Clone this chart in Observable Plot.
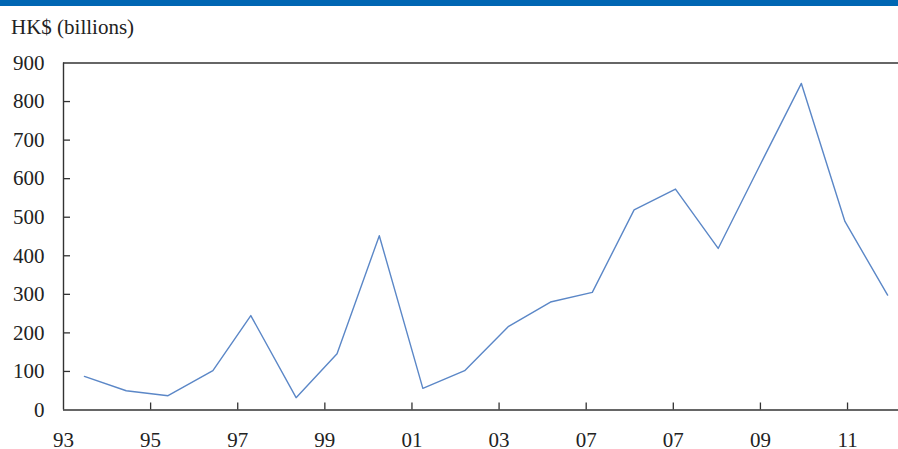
<!DOCTYPE html>
<html>
<head>
<meta charset="utf-8">
<script src="https://cdn.jsdelivr.net/npm/d3@7"></script>
<script src="https://cdn.jsdelivr.net/npm/@observablehq/plot@0.6"></script>
<style>
  html, body { margin: 0; padding: 0; background: #fff; }
  #wrap { width: 898px; height: 449px; overflow: hidden; position: relative; }
  #bar { height: 6px; background: #0066b3; }
  #head { height: 34px; position: relative; }
  #title { position: absolute; left: 11px; top: 9px; font-family: "Liberation Serif", "DejaVu Serif", serif; font-size: 21px; color: #222; white-space: nowrap; }
  #chart svg { display: block; }
</style>
</head>
<body>
<div id="wrap">
  <div id="bar"></div>
  <div id="head"><div id="title">HK$ (billions)</div></div>
  <div id="chart"></div>
</div>
<script>
const periods = [1993.48, 1994.44, 1995.40, 1996.43, 1997.30, 1998.34, 1999.28, 2000.25, 2001.25, 2002.21,
                 2003.22, 2004.18, 2005.14, 2006.10, 2007.05, 2008.03, 2008.98, 2009.94, 2010.94, 2011.92];
// HK$ billions
const values = [87, 50, 37, 102, 245, 32, 146, 452, 56, 102,
                217, 280, 305, 519, 573, 419, 633, 847, 489, 298];
const xTickYears = [1993, 1995, 1997, 1999, 2001, 2003, 2005, 2007, 2009, 2011];
const xTickLabels = ["93", "95", "97", "99", "01", "03", "07", "07", "09", "11"];
const yTicks = [0, 100, 200, 300, 400, 500, 600, 700, 800, 900];

const data = periods.map((p, i) => ({period: p, value: values[i]}));

const W = 898, H = 409, mT = 22.5, mB = 39.5, mL = 63, mR = 0;
const innerW = W - mL - mR, innerH = H - mT - mB;
const axisColor = "#333";

const chart = Plot.plot({
  width: W,
  height: H,
  marginTop: mT,
  marginBottom: mB,
  marginLeft: mL,
  marginRight: mR,
  style: {fontFamily: "'Liberation Serif', 'DejaVu Serif', serif", fontSize: "21px", color: "#222", background: "#fff", overflow: "visible"},
  x: {domain: [1993, 2012.17], label: null},
  y: {domain: [0, 900], label: null},
  marks: [
    Plot.axisY({ticks: yTicks, tickSize: 0, tickPadding: 19, label: null, tickFormat: d => String(d)}),
    Plot.axisX({ticks: xTickYears, tickSize: 0, tickPadding: 22, label: null,
                tickFormat: d => xTickLabels[xTickYears.indexOf(d)]}),
    Plot.ruleY(yTicks.slice(1, -1), {stroke: axisColor, strokeWidth: 1.3, insetRight: innerW - 7}),
    Plot.ruleX(xTickYears.slice(1), {stroke: axisColor, strokeWidth: 1.3, insetTop: innerH - 7}),
    Plot.ruleY([0, 900], {stroke: axisColor, strokeWidth: 1.4}),
    Plot.ruleX([1993], {stroke: axisColor, strokeWidth: 1.4}),
    Plot.line(data, {x: "period", y: "value", stroke: "#5b87c7", strokeWidth: 1.4})
  ]
});
document.getElementById("chart").appendChild(chart);
</script>
</body>
</html>
